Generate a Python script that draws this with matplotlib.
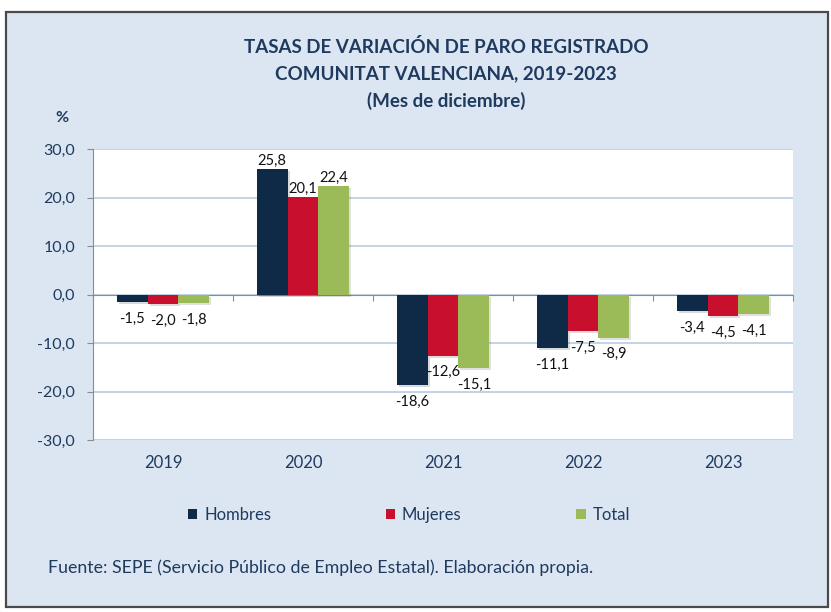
import numpy as np
import matplotlib.pyplot as plt
from matplotlib.patches import Rectangle, Patch
from matplotlib.transforms import blended_transform_factory
import matplotlib.patheffects as pe

plt.rcParams['font.family'] = ['Lato', 'DejaVu Sans']

# Tasas de variación (%) del paro registrado, mes de diciembre
years = ['2019', '2020', '2021', '2022', '2023']
hombres = [-1.5, 25.8, -18.6, -11.1, -3.4]
mujeres = [-2.0, 20.1, -12.6, -7.5, -4.5]
total = [-1.8, 22.4, -15.1, -8.9, -4.1]

series = [('Hombres', hombres, '#0f2a47'),
          ('Mujeres', mujeres, '#c8102e'),
          ('Total', total, '#9bbb59')]

navy = '#1f3a5f'
fig = plt.figure(figsize=(8.31, 6.12), dpi=100)

# panel de fondo con marco
fig.patches.append(Rectangle((6 / 831, 1 - 607 / 612), 822 / 831, 595 / 612,
                             transform=fig.transFigure, facecolor='#dce6f2',
                             edgecolor='#4a4a4a', lw=1.6, zorder=-10))

ax = fig.add_axes([93 / 831, 1 - 440 / 612, 700 / 831, 291 / 612])
ax.set_facecolor('white')

x = np.arange(len(years)) + 0.5
w = 0.22
shadow = [pe.SimplePatchShadow(offset=(1.5, -1.5), alpha=0.15), pe.Normal()]
handles = []
for i, (name, vals, col) in enumerate(series):
    pos = x + (i - 1) * w
    bars = ax.bar(pos, vals, w, color=col, zorder=3)
    for b in bars:
        b.set_path_effects(shadow)
    handles.append(Patch(facecolor=col, label=name))
    for px, v in zip(pos, vals):
        txt = f'{v:.1f}'.replace('.', ',')
        if v >= 0:
            ax.annotate(txt, (px, v), xytext=(0, 1), textcoords='offset points',
                        ha='center', va='bottom', fontsize=10.5, color='#111111', zorder=4)
        else:
            ax.annotate(txt, (px, v), xytext=(0, -7), textcoords='offset points',
                        ha='center', va='top', fontsize=10.5, color='#111111', zorder=4)

ax.set_xlim(0, len(years))
ax.set_ylim(-30, 30)
yt = np.arange(-30, 31, 10)
ax.set_yticks(yt)
ax.set_yticklabels([f'{t:.1f}'.replace('.', ',') for t in yt],
                   fontsize=11.5, color=navy)
ax.yaxis.grid(True, color='#b8cce4', lw=1.2, zorder=0)
ax.tick_params(axis='y', length=4, color='#8c8c8c', pad=9)

# eje de categorías sobre el cero
ax.spines['bottom'].set_position(('data', 0))
ax.spines['bottom'].set_color('#8c8c8c')
ax.spines['left'].set_color('#8c8c8c')
ax.spines['top'].set_visible(False)
ax.spines['right'].set_visible(False)
ax.set_xticks(np.arange(len(years) + 1))
ax.set_xticklabels([])
ax.tick_params(axis='x', length=4, color='#8c8c8c', direction='out')

trans = blended_transform_factory(ax.transData, ax.transAxes)
for px, yr in zip(x, years):
    ax.text(px, -23 / 291, yr, transform=trans, ha='center', va='center',
            fontsize=12, color=navy)

title_lines = ['TASAS DE VARIACIÓN DE PARO REGISTRADO',
               'COMUNITAT VALENCIANA, 2019-2023',
               '(Mes de diciembre)']
for k, line in enumerate(title_lines):
    fig.text(446 / 831, 1 - (47 + 27 * k) / 612, line, ha='center', va='center',
             fontsize=13.5, fontweight='bold', color=navy)
fig.text(62 / 831, 1 - 118 / 612, '%', ha='center', va='center',
         fontsize=11.5, fontweight='bold', color=navy)

fig.legend(handles=handles, loc='center', bbox_to_anchor=(409 / 831, 1 - 515 / 612),
           ncol=3, frameon=False, fontsize=12, handlelength=0.55, handleheight=0.55,
           handletextpad=0.4, columnspacing=6.9, labelcolor=navy)

fig.text(48 / 831, 1 - 568 / 612,
         'Fuente: SEPE (Servicio Público de Empleo Estatal). Elaboración propia.',
         ha='left', va='center', fontsize=12.8, color=navy)

fig.savefig('out.png', dpi=100, facecolor='white')
